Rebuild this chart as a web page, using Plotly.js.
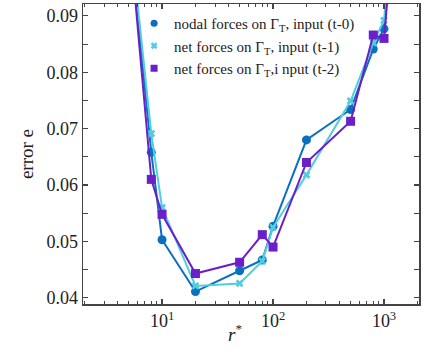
<!DOCTYPE html>
<html><head><meta charset="utf-8">
<script src="https://cdn.plot.ly/plotly-3.0.1.min.js"></script>
<style>html,body{margin:0;padding:0;background:#fff}#chart{width:426px;height:350px}</style>
</head><body><div id="chart"></div>
<script>
const rStar = [5, 8, 10, 20, 50, 80, 100, 200, 500, 800, 1000, 2000];
const errNodal = [0.106, 0.0658, 0.0503, 0.0411, 0.0448, 0.0467, 0.0527, 0.0680, 0.0734, 0.0841, 0.0877, 0.150];
const errNet1  = [0.107, 0.0691, 0.0560, 0.0421, 0.04255, 0.0465, 0.0525, 0.0618, 0.0749, 0.0852, 0.0892, 0.155];
const errNet2  = [0.106, 0.0610, 0.0548, 0.0443, 0.0463, 0.0512, 0.0490, 0.0640, 0.0713, 0.0866, 0.0860, 0.155];
const names = ['nodal forces on Γ<sub>T</sub>, input (t-0)', 'net forces on Γ<sub>T</sub>, input (t-1)', 'net forces on Γ<sub>T</sub>,i nput (t-2)'];
const xTickVals = [10, 100, 1000];
const xTickText = ['10<sup>1</sup>', '10<sup>2</sup>', '10<sup>3</sup>'];
const xMinorVals = [2,3,4,5,6,7,8,9,20,30,40,50,60,70,80,90,200,300,400,500,600,700,800,900,2000];
const yTickVals = [0.04, 0.05, 0.06, 0.07, 0.08, 0.09];
const yTickText = ['0.04', '0.05', '0.06', '0.07', '0.08', '0.09'];
const yMinorVals = [0.045, 0.055, 0.065, 0.075, 0.085];

const series = [errNodal, errNet1, errNet2];
const colors = ['#0b6fc0', '#52cde0', '#6a1fc8'];
const symbols = ['circle', 'x-thin-open', 'square'];
const sizes = [9, 6, 9];
const legendSizes = [7, 5, 7];

const font = 'Liberation Serif, Times New Roman, serif';
const traces = [];
series.forEach((s, i) => {
  const mk = {symbol: symbols[i], size: legendSizes[i], color: colors[i]};
  if (symbols[i] === 'x-thin-open') mk.line = {width: 2.5, color: colors[i]};
  traces.push({x: rStar, y: s, name: names[i], mode: 'markers', marker: mk, showlegend: true, hoverinfo: 'skip'});
});
series.forEach((s, i) => {
  const mk = {symbol: symbols[i], size: sizes[i], color: colors[i]};
  if (symbols[i] === 'x-thin-open') mk.line = {width: 2.5, color: colors[i]};
  traces.push({x: rStar, y: s, name: names[i], mode: 'lines+markers', line: {color: colors[i], width: 2}, marker: mk, showlegend: false});
});

const axColor = '#444';
const layout = {
  width: 426, height: 350,
  margin: {l: 83, r: 7, t: 4, b: 46},
  paper_bgcolor: '#fff', plot_bgcolor: '#fff',
  font: {family: font, size: 18, color: '#222'},
  showlegend: true,
  legend: {x: 0.152, y: 0.99, xanchor: 'left', yanchor: 'top', bgcolor: 'rgba(0,0,0,0)', font: {family: font, size: 15, color: '#222'}, tracegroupgap: 0},
  xaxis: {
    type: 'log', range: [Math.log10(1.94), Math.log10(2066)],
    tickmode: 'array', tickvals: xTickVals, ticktext: xTickText,
    ticks: 'inside', ticklen: 5, tickwidth: 1.2, tickcolor: axColor,
    minor: {tickmode: 'array', tickvals: xMinorVals, ticks: 'inside', ticklen: 3, tickwidth: 1, tickcolor: axColor},
    showline: true, linecolor: axColor, linewidth: 1.5, mirror: 'allticks',
    showgrid: false, zeroline: false,
    tickfont: {family: font, size: 18, color: '#222'}
  },
  yaxis: {
    range: [0.0389, 0.0921],
    tickmode: 'array', tickvals: yTickVals, ticktext: yTickText,
    ticks: 'inside', ticklen: 5, tickwidth: 1.2, tickcolor: axColor,
    minor: {tickmode: 'array', tickvals: yMinorVals, ticks: 'inside', ticklen: 5, tickwidth: 1, tickcolor: axColor},
    showline: true, linecolor: axColor, linewidth: 1.5, mirror: 'allticks',
    showgrid: false, zeroline: false,
    tickfont: {family: font, size: 18, color: '#222'},
    title: {text: 'error e', font: {family: font, size: 19, color: '#222'}, standoff: 8}
  },
  annotations: [{
    text: '<i>r</i><sup>*</sup>', xref: 'paper', yref: 'paper', x: 0.452, y: -0.097,
    xanchor: 'center', yanchor: 'middle', showarrow: false, font: {family: font, size: 19, color: '#222'}
  }]
};
Plotly.newPlot('chart', traces, layout, {displayModeBar: false, staticPlot: true});
</script></body></html>
